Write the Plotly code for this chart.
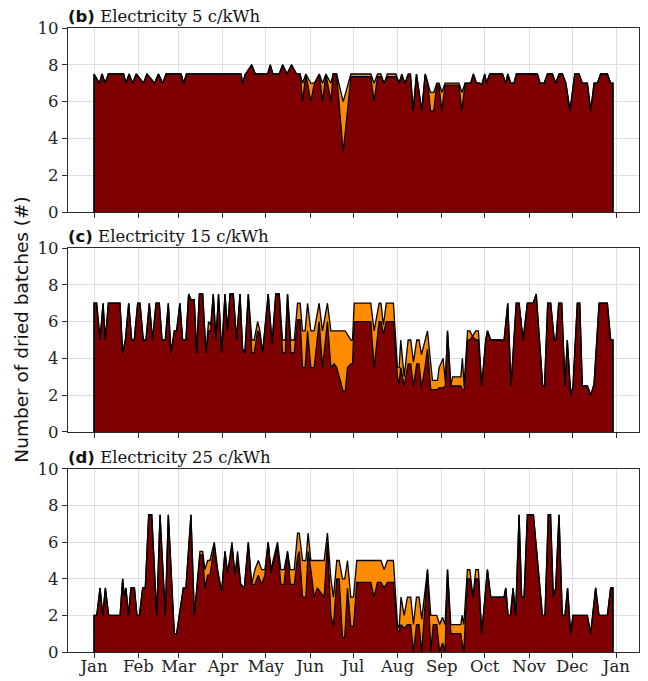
import plotly.graph_objects as go

# ---------------- data ----------------
MONTH_LABELS = ["Jan", "Feb", "Mar", "Apr", "May", "Jun", "Jul", "Aug", "Sep", "Oct", "Nov", "Dec", "Jan"]
MONTH_LENGTHS = [31, 28, 31, 30, 31, 30, 31, 31, 30, 31, 30, 31]
Y_TICKS = [0, 2, 4, 6, 8, 10]

# Panel (b) 5 c/kWh : day of year, total batches (top), batches of the dark series (base)
B_DAYS = [0, 3.7, 5.6, 7.7, 10, 20.7, 22.3, 24.5, 27, 29.5, 34.5, 37, 42.3, 45, 48, 50.3, 60.8, 62.6, 64.6,
          102.7, 103.8, 105.7, 106.8, 110.1, 112.7, 121.3, 123.1, 125, 129.4, 131.8, 134.8, 138, 141.5,
          144, 145.7, 148, 151.5, 154, 157.4, 159.7, 162, 165.5, 167.1, 169.5, 174.1, 179.5, 193.4, 195.7,
          198.1, 200.4, 202.7, 205, 210.9, 213.2, 215, 217.2, 219.5, 221.1, 223, 225.3, 229, 231.4, 233.2,
          235.1, 237.4, 239.5, 241.1, 243, 245.3, 255, 257, 259.3, 263.2, 265.1, 267.2, 269.5, 270.9, 273,
          274.2, 276.5, 285.4, 287.7, 289.1, 291.2, 293.5, 295.1, 309.8, 311.7, 314.5, 316.8, 320.3, 322.6,
          325, 327.3, 329.7, 332.6, 335.9, 338.9, 341.2, 344.7, 347.1, 349.4, 351.7, 354, 358.7, 361, 362.6]
B_TOP = [7.5, 7, 7.5, 7, 7.5, 7.5, 7, 7.5, 7, 7.5, 7, 7.5, 7, 7.5, 7, 7.5, 7.5, 7, 7.5,
         7.5, 7, 7.5, 7.6, 8, 7.5, 7.5, 8, 7.5, 7.5, 8, 7.5, 8, 7.5,
         7.5, 7, 7.5, 7, 7, 7.5, 7, 7.5, 7, 7.5, 7.5, 6, 7.5, 7.5, 7,
         7.5, 7.5, 7, 7.5, 7.5, 7, 7.5, 7, 7.5, 7.5, 5.5, 7.5, 5.5, 7.5, 7,
         6.5, 6.5, 7, 7, 6.5, 7, 7, 6.5, 7, 7, 7.5, 7, 7, 6.9, 7.5,
         7, 7.5, 7.5, 7, 7.5, 7, 7, 7.5, 7.5, 7, 7, 7.5, 7.5, 7,
         7.5, 7.5, 7, 5.5, 7.5, 7.5, 7, 7, 5.5, 7, 7, 7.5, 7.5, 7, 7]
B_BASE = [7.5, 7, 7.5, 7, 7.5, 7.5, 7, 7.5, 7, 7.5, 7, 7.5, 7, 7.5, 7, 7.5, 7.5, 7, 7.5,
          7.5, 7, 7.5, 7.6, 8, 7.5, 7.5, 8, 7.5, 7.5, 8, 7.5, 8, 7.5,
          7.5, 6, 7.5, 6, 7, 7.5, 6, 7.5, 6, 7.5, 7.5, 3.25, 7.35, 7.35, 6,
          7.35, 7.35, 7, 7.35, 7.35, 7, 7.4, 7, 7.4, 7.4, 5.5, 7.5, 5.5, 7.5, 7,
          5.5, 5.5, 7, 6.8, 5.5, 6.9, 6.9, 5.5, 7, 7, 7.5, 7, 7, 6.9, 7.5,
          7, 7.5, 7.5, 7, 7.5, 7, 7, 7.5, 7.5, 7, 7, 7.5, 7.5, 7,
          7.5, 7.5, 7, 5.5, 7.5, 7.5, 7, 7, 5.5, 7, 7, 7.5, 7.5, 7, 7]

# Panel (c) 15 c/kWh
C_DAYS = [0, 1.8, 4.2, 6.3, 7.9, 10, 18.1, 20, 21.9, 24.2, 26.3, 28.1, 30.5, 32.1, 34.4, 36.3, 38.6, 40.9,
          43.3, 45.6, 47.5, 49.8, 51.9, 53.7, 56.1, 57.7, 60, 61.9, 64.2, 66.1, 67.7, 70, 71.7, 73.6, 75.9,
          78.2, 80, 81.5, 83.3, 85.2, 87, 89.2, 91.5, 93.3, 95, 97.3, 99.6, 102, 103.8, 105.4, 107.8, 110.3,
          111.9, 114.3, 115.9, 117.8, 121.7, 124.4, 127, 129.4, 131.7, 133.7, 135.2, 137.5, 139.9, 142.2,
          144, 145.7, 147.5, 149.2, 151.5, 153.8, 157.3, 159.6, 163.1, 165.5, 167.8, 169.6, 174.1, 175.5,
          177.1, 179.5, 180.6, 181.8, 193.4, 195.7, 199.2, 200.5, 202.2, 204.2, 209.2, 212, 213.2, 214.3,
          216.7, 219.5, 221.3, 223.2, 225.5, 227.1, 228.8, 231.4, 233, 235.3, 236.5, 240, 241.1, 243.9,
          245.5, 247, 249.3, 250.5, 256.3, 257.4, 258.6, 261, 262.6, 264.4, 266.7, 268.6, 270.9, 273.7,
          274.9, 277.2, 286.5, 289.1, 291.4, 295, 297, 299.8, 302.8, 306.8, 309, 313.5, 314.8, 317, 319.1,
          321.6, 322.8, 324.7, 326.8, 329.1, 330.7, 333.1, 334.7, 337.7, 339.4, 341.2, 344.7, 347.1, 349.4,
          352.9, 358.7, 361, 362.6]
C_TOP = [7, 7, 5, 7, 5, 7, 7, 4.3, 5, 7, 5, 5, 7, 7, 5, 5, 7, 5,
         7, 7, 5, 5, 7, 4.3, 5.5, 5.5, 7, 5, 5, 7.5, 7.2, 7.2, 4.3, 7.5, 7.5,
         4.3, 6, 5.8, 7.5, 5, 7.5, 4.3, 7.5, 5.5, 7.5, 7.5, 5, 7.5, 4.5, 4.3, 7.5, 5,
         5, 6, 5.5, 4.3, 7.5, 4.8, 7.5, 7.5, 5, 5, 7.5, 5, 5, 7,
         7, 5.5, 5.5, 7, 5.5, 5.5, 7, 5.5, 7, 5.5, 5.5, 5.5, 5.5, 5.5,
         5.3, 5, 5, 7, 7, 5.5, 7, 7, 5.8, 7, 7, 3.5, 3.5, 5,
         3, 5, 5, 3.8, 5, 5, 4.2, 5, 5.5, 3.7, 2.8, 2.8, 3.5, 4,
         2.7, 5.5, 2.5, 3, 3, 4, 2.5, 5.5, 5.5, 5.2, 5.5, 5.5, 2.5, 5,
         5.5, 5, 5, 7, 2.5, 7, 7, 5, 7, 7, 7.5, 2.5, 2.5, 7, 7,
         5, 5, 7, 7, 2.5, 5, 2, 2.5, 7, 7, 2.5, 2.5, 2, 2.6,
         7, 7, 5, 5]
C_BASE = [7, 7, 5, 7, 5, 7, 7, 4.3, 5, 7, 5, 5, 7, 7, 5, 5, 7, 5,
          7, 7, 5, 5, 7, 4.3, 5.5, 5.5, 7, 5, 5, 7.5, 7.2, 7.2, 4.3, 7.5, 7.5,
          4.3, 5.5, 5.5, 7.5, 5, 7.5, 4.3, 7.5, 5.5, 7.5, 7.5, 5, 7.5, 4.5, 4.3, 7.5, 4.3,
          4.3, 5.5, 5.3, 4.3, 7.5, 4.8, 7.5, 7.5, 4.3, 4.3, 7.5, 4.3, 4.3, 6.1,
          6.1, 3.5, 3.5, 5.5, 3.5, 3.5, 6, 3.5, 6, 3.5, 3.7, 3.5, 2.2, 2.2,
          3.5, 3.7, 3.7, 6, 6, 3.5, 6, 6, 5.3, 6, 6, 3, 2.6, 3.5,
          2.5, 3.7, 3.7, 2.5, 3.7, 3.7, 2.4, 3.6, 4.5, 2.3, 2.3, 2.3, 2.4, 2.4,
          2.5, 5.5, 2.5, 2.5, 2.5, 2.3, 2.3, 5, 5, 5.2, 5, 5, 2.5, 5,
          5.5, 5, 5, 7, 2.5, 7, 7, 5, 7, 7, 7.5, 2.5, 2.5, 7, 7,
          5, 5, 7, 7, 2.5, 5, 2, 2.5, 7, 7, 2.5, 2.5, 2, 2.6,
          7, 7, 5, 5]

# Panel (d) 25 c/kWh
D_DAYS = [0, 1.9, 4.2, 6.1, 7.9, 10.2, 18.2, 20, 21.2, 22.3, 24, 25.8, 28.2, 30, 31.7, 34, 35.8, 38.2,
          40.3, 43.8, 46.1, 49.8, 51.9, 56.1, 57.7, 62.4, 64.2, 67.7, 70.1, 74, 75.9, 77.5, 79.4, 81, 84,
          86.4, 89.2, 91.5, 93.3, 96.4, 98.5, 100.3, 102.5, 105, 107.8, 110.1, 112.4, 114.8, 117.1, 119.4,
          121.7, 123.6, 128.2, 130.5, 132.8, 135.2, 137.1, 139.9, 142.2, 143.4, 145.7, 148, 149.6, 151.5,
          153.8, 156, 160.8, 163.1, 165.5, 167.3, 169.6, 171.3, 173.6, 175.2, 177.1, 179.4, 181.3, 183.6,
          193.4, 195.7, 198, 200.5, 202.7, 205, 209.2, 212, 213.2, 214.5, 216.7, 219, 221.3, 223.2, 225.3,
          227.1, 229, 233, 235.3, 237, 239.5, 241.5, 243.5, 245.3, 247, 249.3, 256.3, 257.2, 258.4, 260.9,
          262.6, 264.8, 266.7, 268.6, 270.9, 274.9, 277.2, 286.5, 287.7, 289.3, 291, 292.8, 294.6, 297,
          298.8, 300.5, 302.8, 307, 313.3, 315.1, 317.4, 319, 320.9, 322.6, 324.9, 327.2, 329.1, 330.9,
          333, 334.7, 344.7, 347, 350.5, 352.8, 358.7, 361, 362.6]
D_TOP = [2, 2, 3.5, 2, 3.5, 2, 2, 4, 3, 3.5, 2, 3.5, 3.5, 2, 2, 3.5, 3.5, 7.5,
         7.5, 2, 7.5, 2, 7.5, 1, 1, 3.5, 3.5, 7.5, 2, 5.5, 5.5, 4.5, 5, 5, 6,
         4.5, 3.3, 5.5, 4.3, 6, 4.2, 5.5, 3.7, 3.5, 6, 3.7, 4.5, 5, 4.5, 4.5,
         6, 4.5, 6, 4.5, 4.5, 5.5, 4.5, 4.5, 6.5, 6.5, 5, 5, 6.5, 5,
         5, 5, 5, 6.5, 4, 3, 5, 5, 4, 4, 5, 3, 3, 5,
         5, 5, 5, 5, 4.5, 5, 5, 1.5, 1.3, 3, 2, 3, 3, 1.5, 3,
         3, 1.8, 4.5, 2, 2, 2, 1.5, 1.9, 1.5, 4.5, 1.5, 1.5, 2, 1.5, 4.5,
         4.5, 3, 4.5, 4.5, 1, 4.5, 3, 3, 3.5, 2, 2, 3.5, 2, 7.5,
         3, 3, 7.5, 7.5, 2, 2, 7.5, 7.5, 3, 3.5, 7.5, 2, 2, 3.5,
         1, 2, 2, 1, 3.5, 2, 2, 3.5, 3.5]
D_BASE = [2, 2, 3.5, 2, 3.5, 2, 2, 4, 3, 3.5, 2, 3.5, 3.5, 2, 2, 3.5, 3.5, 7.5,
          7.5, 2, 7.5, 2, 7.5, 1, 1, 3.5, 3.5, 7.5, 2, 5.3, 5.3, 3.5, 4.2, 4.2, 5.8,
          4.3, 3.3, 5.5, 4.3, 5.8, 4.2, 5, 3.7, 3.5, 6, 3.7, 3.7, 4.2, 3.7, 4.2,
          6, 4.3, 5.8, 3.7, 3.7, 5.5, 3.7, 3.7, 5.2, 5.5, 3, 3, 5.5, 4.5,
          3, 3.5, 3, 6, 2, 1.4, 4, 4, 0.8, 0.8, 3.5, 1.4, 1.4, 3.8,
          3.8, 3, 3.8, 3.8, 3.5, 3.8, 3.8, 1.2, 1.1, 1.5, 1.3, 1.5, 1.5, 0, 1.5,
          1.5, 0, 4.5, 0, 1.5, 1.5, 0, 0.5, 0, 4.5, 1, 1, 0.5, 0, 4,
          4, 3, 4, 4, 1, 4.5, 3, 3, 3.5, 2, 2, 3.5, 2, 7.5,
          3, 3, 7.5, 7.5, 2, 2, 7.5, 7.5, 3, 3.5, 7.5, 2, 2, 3.5,
          1, 2, 2, 1, 3.5, 2, 2, 3.5, 3.5]

PANEL_LETTERS = ["(b)", "(c)", "(d)"]
PANEL_TITLES = ["Electricity 5 c/kWh", "Electricity 15 c/kWh", "Electricity 25 c/kWh"]
Y_LABEL = "Number of dried batches (#)"

# ---------------- style ----------------
DARK = "#7f0000"
ORANGE = "#ff8c00"
EDGE = "black"
GRID = "#dedede"
SPINE = "#2b2b2b"
SERIF = "DejaVu Serif"
SANS = "DejaVu Sans"
FS = 16.5
DOMAINS = [(0.7051, 1.0), (0.3526, 0.6474), (0.0, 0.2933)]

tick_pos = [0]
for m in MONTH_LENGTHS:
    tick_pos.append(tick_pos[-1] + m)

fig = go.Figure()
panels = [(B_DAYS, B_TOP, B_BASE), (C_DAYS, C_TOP, C_BASE), (D_DAYS, D_TOP, D_BASE)]
for i, (days, top, base) in enumerate(panels):
    n = "" if i == 0 else str(i + 1)
    xa, ya = "x" + n, "y" + n
    # orange band between base and top
    fig.add_trace(go.Scatter(x=list(days) + list(days)[::-1], y=list(top) + list(base)[::-1],
                             mode="lines", fill="toself", fillcolor=ORANGE, line=dict(width=0),
                             xaxis=xa, yaxis=ya, hoverinfo="skip", showlegend=False))
    # dark red area
    fig.add_trace(go.Scatter(x=[days[0]] + list(days) + [days[-1]], y=[0] + list(base) + [0],
                             mode="lines", fill="tozeroy", fillcolor=DARK,
                             line=dict(color=EDGE, width=1.3),
                             xaxis=xa, yaxis=ya, hoverinfo="skip", showlegend=False))
    # outline of the top
    fig.add_trace(go.Scatter(x=[days[0]] + list(days) + [days[-1]], y=[0] + list(top) + [0],
                             mode="lines", line=dict(color=EDGE, width=1.3),
                             xaxis=xa, yaxis=ya, hoverinfo="skip", showlegend=False))

    axis_common = dict(showgrid=True, gridcolor=GRID, gridwidth=1, showline=True, linecolor=SPINE,
                       linewidth=1.2, mirror=True, ticks="outside", ticklen=5, tickwidth=1.1,
                       tickcolor=SPINE, zeroline=False, automargin=False,
                       tickfont=dict(family=SERIF, size=FS, color="#222"))
    fig.layout["xaxis" + n] = dict(axis_common, domain=[0, 1], anchor=ya, range=[-18.2, 380.8],
                                   tickmode="array", tickvals=tick_pos, ticktext=MONTH_LABELS,
                                   showticklabels=(i == 2), ticklabelstandoff=-6)
    fig.layout["yaxis" + n] = dict(axis_common, domain=list(DOMAINS[i]), anchor=xa, range=[0, 10],
                                   tickmode="array", tickvals=Y_TICKS)
    fig.add_annotation(x=0, y=1, xref=xa + " domain", yref=ya + " domain", xanchor="left",
                       yanchor="bottom", showarrow=False, yshift=0, xshift=-2,
                       text=f"<span style=\"font-family:{SANS}\"><b>{PANEL_LETTERS[i]}</b></span> {PANEL_TITLES[i]}",
                       font=dict(family=SERIF, size=FS, color="#111"))

fig.add_annotation(x=-0.0806, y=0.5165, xref="paper", yref="paper", textangle=-90, showarrow=False,
                   xanchor="center", yanchor="middle",
                   text=Y_LABEL, font=dict(family=SANS, size=18.5, color="#111"))

fig.update_layout(width=648, height=681, margin=dict(l=68, r=9, t=28, b=29, autoexpand=False),
                  paper_bgcolor="white", plot_bgcolor="white", showlegend=False)

fig.write_html("out.html")
